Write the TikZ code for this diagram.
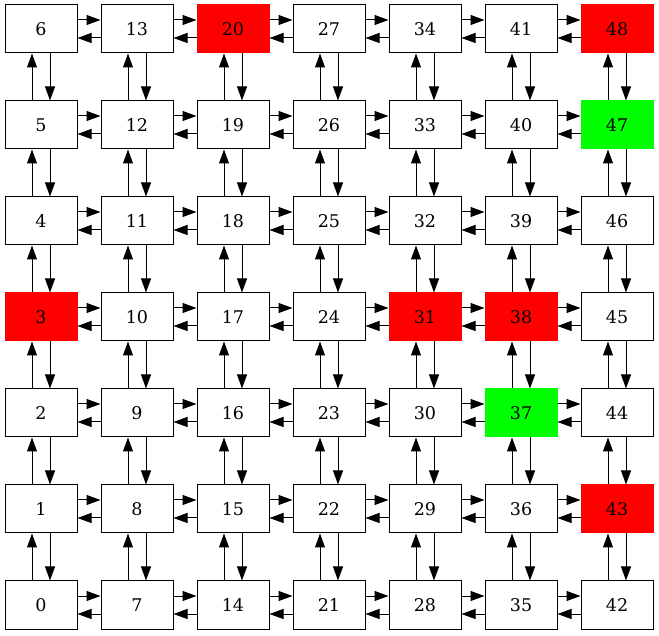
\documentclass[tikz,border=0pt]{standalone}
\usepackage{fontspec}
\setmainfont{DejaVu Serif}
\usetikzlibrary{arrows.meta}
\begin{document}
\begin{tikzpicture}[x=1pt,y=1pt,
  cell/.style={draw=black,fill=white,line width=1pt,minimum width=72pt,minimum height=48pt,inner sep=0pt,font=\fontsize{17.5}{20}\selectfont},
  redcell/.style={draw=red,fill=red},
  greencell/.style={draw=green,fill=green},
  hl3/.style={redcell}, hl20/.style={redcell}, hl31/.style={redcell},
  hl38/.style={redcell}, hl43/.style={redcell}, hl48/.style={redcell},
  hl37/.style={greencell}, hl47/.style={greencell},
  link/.style={line width=1pt,-{Triangle[length=14pt,width=10pt]}}]
\useasboundingbox (0,0) rectangle (659,635);
\foreach \n in {0,...,48}{
  \pgfmathtruncatemacro\c{floor(\n/7)}
  \pgfmathtruncatemacro\r{\n-7*\c}
  \node[cell,hl\n/.try] (n\n) at (41+96*\c,30+96*\r) {\n};
}
\foreach \c in {0,...,5}{
  \foreach \r in {0,...,6}{
    \pgfmathtruncatemacro\a{7*\c+\r}
    \pgfmathtruncatemacro\b{\a+7}
    \draw[link] ([yshift=9pt]n\a.east) -- ([yshift=9pt]n\b.west);
    \draw[link] ([yshift=-9pt]n\b.west) -- ([yshift=-9pt]n\a.east);
  }
}
\foreach \c in {0,...,6}{
  \foreach \r in {0,...,5}{
    \pgfmathtruncatemacro\a{7*\c+\r}
    \pgfmathtruncatemacro\b{\a+1}
    \draw[link] ([xshift=-9pt]n\a.north) -- ([xshift=-9pt]n\b.south);
    \draw[link] ([xshift=9pt]n\b.south) -- ([xshift=9pt]n\a.north);
  }
}
\end{tikzpicture}
\end{document}
